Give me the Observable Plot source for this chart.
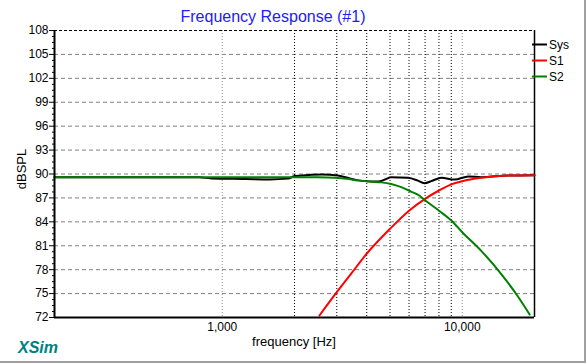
<!DOCTYPE html>
<html>
<head>
<meta charset="utf-8">
<script src="https://cdn.jsdelivr.net/npm/d3@7"></script>
<script src="https://cdn.jsdelivr.net/npm/@observablehq/plot@0.6"></script>
<style>
  html, body { margin: 0; padding: 0; background: #fff; }
  #chart { width: 587px; height: 364px; overflow: hidden; }
  svg { display: block; }
</style>
</head>
<body>
<div id="chart"></div>
<script>
// ---- Data ----
const sysFreq = [200, 800, 900, 1250, 1580, 1880, 2000, 2300, 2600, 3030, 3300, 3680, 4460, 4800, 5050, 5940, 6500, 6950, 7500, 8180, 9290, 10600, 12000, 15500, 20000];
const sysDb   = [89.6, 89.58, 89.45, 89.38, 89.32, 89.42, 89.75, 89.88, 89.95, 89.8, 89.55, 89.2, 89.05, 89.35, 89.6, 89.52, 89.2, 88.85, 89.15, 89.52, 89.3, 89.69, 89.6, 89.81, 89.85];

const s1Freq = [2541, 3000, 3445, 4000, 5000, 6000, 7000, 8000, 9000, 10000, 12000, 15500, 20000];
const s1Db   = [72.25, 75.17, 77.5, 80.0, 83.12, 85.4, 86.88, 87.93, 88.7, 89.1, 89.52, 89.81, 89.85];

const s2Freq = [200, 1000, 2000, 2500, 2940, 3300, 3680, 4100, 4600, 5050, 5570, 6120, 6620, 7000, 8000, 9000, 10000, 12000, 14540, 17060, 19090];
const s2Db   = [89.6, 89.6, 89.6, 89.58, 89.52, 89.4, 89.2, 89.05, 88.95, 88.75, 88.35, 87.8, 87.3, 86.7, 85.4, 84.17, 82.7, 80.36, 77.45, 74.63, 72.37];

const seriesNames  = ["Sys", "S1", "S2"];
const seriesColors = ["#000000", "#ff0000", "#008000"];

const yTicks = [72, 75, 78, 81, 84, 87, 90, 93, 96, 99, 102, 105, 108];
const xTickValues = [1000, 10000];
const xGridMajor = [1000, 10000];
const xGridMinor = [2000, 3000, 4000, 5000, 6000, 7000, 8000, 9000];

const titleText = "Frequency Response (#1)";
const xLabel = "frequency [Hz]";
const yLabel = "dBSPL";
const brand = "XSim";

// ---- Build ----
const rows = (fs, ds) => fs.map((f, i) => ({f, db: ds[i]}));
const yMinor = d3.range(72, 108.001, 0.75).filter(v => !yTicks.includes(v));
const yGrid = yTicks.filter(v => v !== 72 && v !== 108);

const W = 587, H = 364;
const font = "Arial, 'Liberation Sans', sans-serif";

const svg = Plot.plot({
  width: W,
  height: H,
  marginLeft: 54,
  marginRight: 53,
  marginTop: 30,
  marginBottom: 47,
  style: {fontFamily: font, fontSize: "12px", color: "#000", background: "#fff"},
  x: {type: "log", domain: [200, 20000]},
  y: {domain: [72, 108]},
  marks: [
    Plot.ruleY(yGrid, {stroke: "#808080", strokeDasharray: "4,3", strokeWidth: 1}),
    Plot.ruleX(xGridMajor, {stroke: "#909090", strokeDasharray: "1,2", strokeWidth: 1}),
    Plot.ruleX(xGridMinor, {stroke: "#000", strokeDasharray: "1,2", strokeWidth: 1}),
    Plot.ruleY([108], {stroke: "#000", strokeDasharray: "3,2", strokeWidth: 1}),
    Plot.ruleX([20000], {stroke: "#000", strokeWidth: 1.5}),
    Plot.line(rows(sysFreq, sysDb), {x: "f", y: "db", stroke: seriesColors[0], strokeWidth: 2, curve: "monotone-x"}),
    Plot.line(rows(s1Freq, s1Db), {x: "f", y: "db", stroke: seriesColors[1], strokeWidth: 2, curve: "monotone-x"}),
    Plot.line(rows(s2Freq, s2Db), {x: "f", y: "db", stroke: seriesColors[2], strokeWidth: 2, curve: "monotone-x"}),
    Plot.ruleY([72], {stroke: "#000", strokeWidth: 2}),
    Plot.ruleX([200], {stroke: "#000", strokeWidth: 2}),
    Plot.axisY({ticks: yTicks, tickSize: 5, tickPadding: 1, label: null, stroke: "#000", fill: "#000"}),
    Plot.axisY({ticks: yMinor, tickSize: 2, text: null, label: null, stroke: "#000"}),
    Plot.axisX({ticks: xTickValues, tickSize: 0, tickPadding: 5, tickFormat: d3.format(","), label: null, fill: "#000"})
  ]
});

document.getElementById("chart").appendChild(svg);

// ---- Overlay texts, legend and frame ----
const s = d3.select(svg);
s.append("text").attr("x", 273).attr("y", 22).attr("text-anchor", "middle")
  .attr("font-family", font).attr("font-size", 16).attr("fill", "#2020ff").text(titleText);

s.append("text").attr("x", 294).attr("y", 346).attr("text-anchor", "middle")
  .attr("font-family", font).attr("font-size", 13).attr("fill", "#000").text(xLabel);

s.append("text").attr("transform", "translate(26,169) rotate(-90)").attr("text-anchor", "middle")
  .attr("font-family", font).attr("font-size", 13).attr("fill", "#000").text(yLabel);

s.append("text").attr("x", 18).attr("y", 353).attr("text-anchor", "start")
  .attr("font-family", font).attr("font-size", 16).attr("font-weight", "bold").attr("font-style", "italic")
  .attr("fill", "#008080").text(brand);

const legendY = [44.5, 60.5, 76.5];
seriesNames.forEach((name, i) => {
  s.append("line").attr("x1", 532).attr("x2", 547).attr("y1", legendY[i]).attr("y2", legendY[i])
    .attr("stroke", seriesColors[i]).attr("stroke-width", 2);
  s.append("text").attr("x", 549).attr("y", legendY[i] + 4.5).attr("text-anchor", "start")
    .attr("font-family", font).attr("font-size", 12).attr("fill", "#000").text(name);
});

// light gray window edge (right & bottom)
s.append("line").attr("x1", 585).attr("x2", 585).attr("y1", 0).attr("y2", 363)
  .attr("stroke", "#a0a0a0").attr("stroke-width", 2);
s.append("line").attr("x1", 0).attr("x2", 586).attr("y1", 362).attr("y2", 362)
  .attr("stroke", "#a0a0a0").attr("stroke-width", 2);
</script>
</body>
</html>
